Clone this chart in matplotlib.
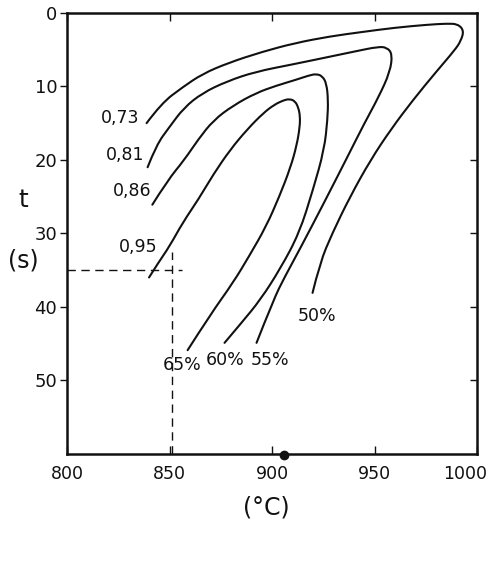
import matplotlib
matplotlib.use("Agg")
import matplotlib.pyplot as plt
import matplotlib.transforms as mtransforms
from matplotlib.path import Path
from matplotlib.patches import PathPatch

plt.rcParams['font.family'] = ['DejaVu Sans']

# curves: temperature (deg C), time (s)
curve_073_t = [838.8, 846, 856.4, 866, 878.6, 895, 911.1, 928, 943.6, 960, 975.8, 985, 990.5, 993.5,
               992, 989.2, 980, 968.8, 958, 948, 938, 929.3, 923.3, 919.7]
curve_073_s = [15.0, 12.3, 10.1, 8.3, 6.8, 5.3, 4.1, 3.2, 2.6, 2.0, 1.6, 1.45, 1.5, 2.4,
               3.8, 5.0, 8.0, 11.8, 15.8, 20, 25, 30, 34, 38.1]
curve_081_t = [839.3, 843.5, 850, 857, 866, 878, 891.9, 910, 927.3, 941, 951.6, 956, 958.6,
               957.5, 952, 945, 936.7, 925, 913.4, 906, 900.7, 892.4]
curve_081_s = [21.0, 18.0, 15.5, 12.9, 10.9, 9.3, 8.0, 7.0, 6.0, 5.2, 4.6, 4.7, 5.6,
               8.0, 11.4, 15.0, 19.6, 26, 32.2, 36, 39, 44.9]
curve_086_t = [841.6, 849, 857.2, 864, 871.4, 881, 892.1, 902, 911.6, 918, 921.6, 924.5, 926.5,
               927.3, 927, 925.4, 920, 913.2, 904, 894.4, 885, 876.8]
curve_086_s = [26.1, 22.8, 20.0, 17.2, 14.6, 12.6, 10.9, 9.9, 9.1, 8.5, 8.3, 8.6, 9.6,
               11.8, 14.5, 18.6, 24, 30, 34.8, 39, 42.2, 44.9]
curve_095_t = [840, 844.5, 849.9, 856.5, 864, 871.5, 879.6, 888, 895.8, 901, 905.4, 908.5, 911.2,
               912.8, 913.6, 913.5, 912, 909, 903.5, 897, 889, 881, 870, 858.8]
curve_095_s = [36.0, 34.0, 31.8, 28.5, 25.4, 21.9, 18.6, 15.8, 13.6, 12.5, 11.9, 11.7, 12.0,
               12.9, 14.0, 15.5, 18.0, 21.0, 25.0, 29.1, 33.0, 36.7, 41.0, 45.9]

ratio_labels = ['0,73', '0,81', '0,86', '0,95']
ratio_label_t = [835.5, 837.8, 841.2, 844.3]
ratio_label_s = [14.3, 19.4, 24.2, 31.9]

pct_labels = ['50%', '55%', '60%', '65%']
pct_label_t = [922, 899, 877, 856]
pct_label_s = [41.2, 47.3, 47.3, 47.9]

fig = plt.figure(figsize=(4.89, 5.63), dpi=100)
ax = fig.add_axes([0.137, 0.194, 0.839, 0.783])


def smooth_curve(ax, xs, ys):
    # quadratic b-spline through the read points
    pts = list(zip(xs, ys))
    verts = [pts[0]]
    codes = [Path.MOVETO]
    for i in range(1, len(pts) - 1):
        mid = ((pts[i][0] + pts[i + 1][0]) / 2, (pts[i][1] + pts[i + 1][1]) / 2)
        if i == len(pts) - 2:
            mid = pts[i + 1]
        verts += [pts[i], mid]
        codes += [Path.CURVE3, Path.CURVE3]
    ax.add_patch(PathPatch(Path(verts, codes), fill=False, lw=1.5, ec='#111111',
                           capstyle='round', joinstyle='round'))


for xs, ys in [(curve_073_t, curve_073_s), (curve_081_t, curve_081_s),
               (curve_086_t, curve_086_s), (curve_095_t, curve_095_s)]:
    smooth_curve(ax, xs, ys)

for lab, x, y in zip(ratio_labels, ratio_label_t, ratio_label_s):
    ax.text(x, y, lab, ha='right', va='center', fontsize=12.5, color='#111111')
for lab, x, y in zip(pct_labels, pct_label_t, pct_label_s):
    ax.text(x, y, lab, ha='center', va='center', fontsize=12.5, color='#111111')

# reading guide
ax.plot([800, 856], [35, 35], ls=(0, (6, 4)), lw=1.0, color='#111111')
ax.plot([851, 851], [60, 32.5], ls=(0, (6, 4)), lw=1.0, color='#111111')

# scan blot on the axis
ax.plot([906], [60.2], 'o', ms=6, color='#111111', clip_on=False)

ax.set_xlim(800, 1000)
ax.set_ylim(60, 0)
ax.set_xticks([800, 850, 900, 950, 1000])
ax.set_yticks([0, 10, 20, 30, 40, 50])
ax.tick_params(axis='x', direction='in', length=6, width=1, labelsize=12.5, pad=8,
               top=True, colors='#111111')
ax.tick_params(axis='y', direction='out', length=5, width=1, labelsize=13, pad=2,
               right=True, colors='#111111')
for t in ax.yaxis.get_major_ticks():
    t.tick2line.set_marker(matplotlib.lines.TICKLEFT)
for sp in ax.spines.values():
    sp.set_linewidth(1.8)
    sp.set_color('#111111')

# nudge the last x label so it stays inside the picture, as in the scan
fig.canvas.draw()
last = ax.get_xticklabels()[-1]
last.set_transform(last.get_transform() +
                   mtransforms.ScaledTranslation(-9 / 72, 0, fig.dpi_scale_trans))

fig.text(0.047, 0.645, 't', fontsize=18, ha='center', va='center', color='#111111')
fig.text(0.047, 0.538, '(s)', fontsize=17, ha='center', va='center', color='#111111')
fig.text(0.545, 0.098, '(°C)', fontsize=17, ha='center', va='center', color='#111111')

fig.savefig('out.png', dpi=100)
